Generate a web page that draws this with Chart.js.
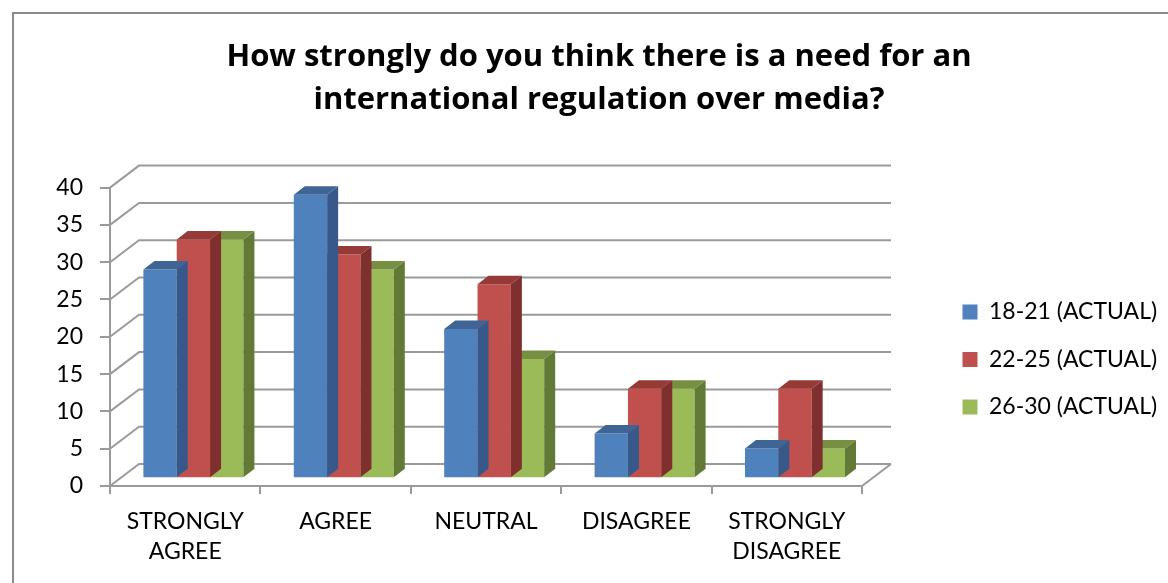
<!DOCTYPE html>
<html>
<head>
<meta charset="utf-8">
<title>International regulation over media – survey</title>
<script src="https://cdn.jsdelivr.net/npm/chart.js@4.4.1/dist/chart.umd.min.js"></script>
<style>
  html, body { margin: 0; padding: 0; background: #ffffff; }
  canvas { display: block; }
</style>
</head>
<body>
<canvas id="chart" width="1168" height="583"></canvas>
<script>
// ---- data ----
const categories = [['STRONGLY', 'AGREE'], 'AGREE', 'NEUTRAL', 'DISAGREE', ['STRONGLY', 'DISAGREE']];
const seriesNames = ['18-21 (ACTUAL)', '22-25 (ACTUAL)', '26-30 (ACTUAL)'];
const age18to21 = [28, 38, 20, 6, 4];
const age22to25 = [32, 30, 26, 12, 12];
const age26to30 = [32, 28, 16, 12, 4];
const yMin = 0, yMax = 40, yStep = 5;
const titleLines = ['How strongly do you think there is a need for an', 'international regulation over media?'];

// ---- styling ----
const FONT = 'Lato';
const TITLE_FONT = 'Open Sans';
const faces = [
  { front: '#4F81BD', side: '#36598A', top: '#3E6596' },
  { front: '#C0504D', side: '#7F302E', top: '#953A37' },
  { front: '#9BBB59', side: '#637A37', top: '#768F42' }
];
const GRID = '#9a9a9a';
const WALL_DX = 29, WALL_DY = -22;      // depth of floor / side wall
const BAR_DX = 8.2, BAR_DY = -7.7;      // bars stand this far behind the axis plane
const DEPTH_X = 11, DEPTH_Y = -8.5;     // thickness of each column

// outer frame of the chart object
const framePlugin = {
  id: 'frame',
  beforeDraw(chart) {
    const ctx = chart.ctx;
    ctx.save();
    ctx.strokeStyle = '#8a8a8a';
    ctx.lineWidth = 2;
    ctx.beginPath();
    ctx.moveTo(13, chart.height);
    ctx.lineTo(13, 13);
    ctx.lineTo(chart.width, 13);
    ctx.stroke();
    ctx.restore();
  }
};

// floor, side wall and back wall grid, plus the 3D faces of the columns
const depthPlugin = {
  id: 'depth',
  beforeDatasetsDraw(chart) {
    const { ctx, chartArea: a, scales: { y } } = chart;
    ctx.save();
    ctx.strokeStyle = GRID;
    ctx.lineWidth = 2;
    ctx.beginPath();
    y.ticks.forEach(t => {
      const py = y.getPixelForValue(t.value);
      ctx.moveTo(a.left, py);
      ctx.lineTo(a.left + WALL_DX, py + WALL_DY);
      ctx.lineTo(a.right + WALL_DX, py + WALL_DY);
    });
    const p0 = y.getPixelForValue(0);
    ctx.moveTo(a.right, p0);
    ctx.lineTo(a.right + WALL_DX, p0 + WALL_DY);
    ctx.stroke();
    ctx.restore();
    // columns are drawn set back into the depth of the plot
    ctx.save();
    ctx.translate(BAR_DX, BAR_DY);
  },
  afterDatasetDraw(chart, args) {
    const ctx = chart.ctx;
    const f = faces[args.index];
    args.meta.data.forEach(bar => {
      const { x, y, base, width } = bar.getProps(['x', 'y', 'base', 'width'], true);
      const l = x - width / 2, r = x + width / 2;
      ctx.fillStyle = f.side;
      ctx.beginPath();
      ctx.moveTo(r, y);
      ctx.lineTo(r + DEPTH_X, y + DEPTH_Y);
      ctx.lineTo(r + DEPTH_X, base + DEPTH_Y);
      ctx.lineTo(r, base);
      ctx.closePath();
      ctx.fill();
      ctx.fillStyle = f.top;
      ctx.beginPath();
      ctx.moveTo(l, y);
      ctx.lineTo(l + DEPTH_X, y + DEPTH_Y);
      ctx.lineTo(r + DEPTH_X, y + DEPTH_Y);
      ctx.lineTo(r, y);
      ctx.closePath();
      ctx.fill();
    });
  },
  afterDatasetsDraw(chart) {
    chart.ctx.restore();
  }
};

// legend sits to the right of the plot, level with the middle of the walls
const legendPlacement = {
  id: 'legendPlacement',
  afterLayout(chart) {
    const lg = chart.legend;
    if (!lg) return;
    const w = lg.width;
    lg.left = 938;
    lg.right = 938 + w;
    lg.top = 276;
    lg.bottom = chart.height;
  }
};

const seriesData = [age18to21, age22to25, age26to30];

new Chart(document.getElementById('chart'), {
  type: 'bar',
  data: {
    labels: categories,
    datasets: seriesNames.map((name, i) => ({
      label: name,
      data: seriesData[i],
      backgroundColor: faces[i].front,
      borderWidth: 0,
      categoryPercentage: 0.665,
      barPercentage: 1,
      clip: false,
      xAxisID: 'x',
      yAxisID: 'y'
    }))
  },
  options: {
    responsive: false,
    devicePixelRatio: 1,
    animation: false,
    events: [],
    layout: { padding: { left: 30, right: 0, top: 12, bottom: 0 } },
    plugins: {
      title: {
        display: true,
        text: titleLines,
        color: '#000',
        font: { family: TITLE_FONT, size: 31, weight: 'bold', lineHeight: 1.39 },
        padding: { top: 24, bottom: 65.4 }
      },
      legend: {
        position: 'right',
        align: 'start',
        fullSize: false,
        maxWidth: 228,
        labels: {
          boxWidth: 15,
          boxHeight: 15,
          padding: 24.5,
          color: '#000',
          font: { family: FONT, size: 23 }
        }
      },
      tooltip: { enabled: false }
    },
    scales: {
      x: {
        type: 'category',
        position: 'bottom',
        grid: { offset: true, drawOnChartArea: false, drawTicks: true, tickLength: 8, color: GRID, lineWidth: 2 },
        border: { display: true, color: GRID, width: 2 },
        ticks: {
          color: '#000',
          font: { family: FONT, size: 23, lineHeight: 1.3 },
          padding: 12.5,
          maxRotation: 0,
          autoSkip: false
        },
        afterFit(s) { s.height = 97; }
      },
      y: {
        type: 'linear',
        position: 'left',
        min: yMin,
        max: yMax,
        grid: { drawOnChartArea: false, drawTicks: true, tickLength: 10, color: GRID, lineWidth: 2 },
        border: { display: true, color: GRID, width: 2 },
        ticks: {
          stepSize: yStep,
          color: '#000',
          font: { family: FONT, size: 23 },
          padding: 17
        },
        afterFit(s) { s.width = 80; }
      },
      gap: {
        type: 'linear',
        position: 'right',
        display: true,
        grid: { display: false },
        border: { display: false },
        ticks: { display: false },
        afterFit(s) { s.width = 78; }
      }
    }
  },
  plugins: [framePlugin, depthPlugin, legendPlacement]
});
</script>
</body>
</html>
